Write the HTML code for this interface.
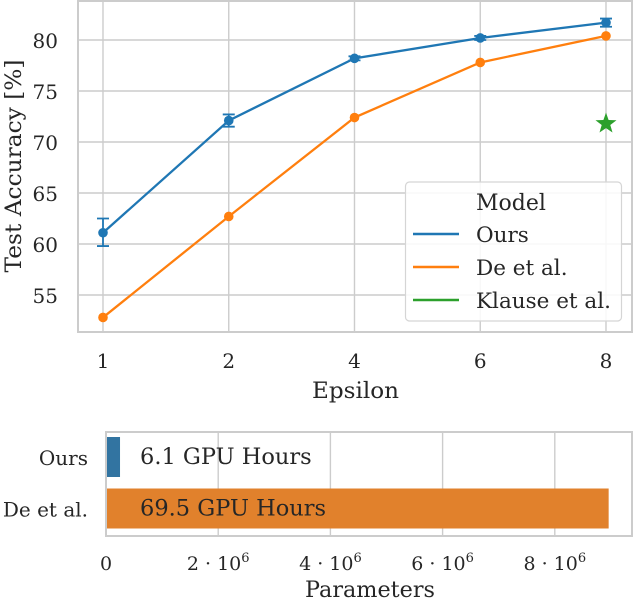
<!DOCTYPE html>
<html><head><meta charset="utf-8"><style>
body{margin:0;background:#fff}
svg{display:block;font-family:"DejaVu Serif","Liberation Serif",serif}
text{fill:#262626}
</style></head><body>
<svg width="636" height="600" viewBox="0 0 636 600">
<g id="topchart"></g>
<g id="botchart"></g>
</svg>
<script>
const epsCats = ["1","2","4","6","8"];
const oursAcc = [61.1, 72.1, 78.2, 80.2, 81.7];
const oursErrLo = [59.8, 71.5, 78.0, 80.0, 81.3];
const oursErrHi = [62.5, 72.7, 78.4, 80.4, 82.1];
const deAcc = [52.8, 62.7, 72.4, 77.8, 80.4];
const klauseIdx = 4;
const klauseAcc = 71.8;
const yTicks = [55, 60, 65, 70, 75, 80];
const barModels = ["Ours", "De et al."];
const barParams = [0.25e6, 8.96e6];
const barLabels = ["6.1 GPU Hours", "69.5 GPU Hours"];
const xParamTicks = [0, 2e6, 4e6, 6e6, 8e6];
const xParamTickBases = ["0", "2 · 10", "4 · 10", "6 · 10", "8 · 10"];

const NS = "http://www.w3.org/2000/svg";
function mk(parent, tag, attrs, txt){const e=document.createElementNS(NS,tag);for(const k in attrs)e.setAttribute(k,attrs[k]);if(txt!==undefined)e.textContent=txt;parent.appendChild(e);return e;}
const topG=document.getElementById('topchart');
const L=78,R=632,T=1,B=332;
const xs=i=>103+i*125.75;
const ys=v=>40+(80-v)*10.2;
const BLUE="#1f77b4",ORANGE="#ff7f0e",GREEN="#2ca02c",GRID="#cccccc";
yTicks.forEach(v=>{
  let l=mk(topG,'line',{x1:L,x2:R,y1:ys(v),y2:ys(v),stroke:GRID,'stroke-width':1.4});
  
  let t=mk(topG,'text',{x:58,y:ys(v)+8,'text-anchor':'end','font-size':20},String(v));
  
});
epsCats.forEach((c,i)=>{
  let l=mk(topG,'line',{x1:xs(i),x2:xs(i),y1:T,y2:B,stroke:GRID,'stroke-width':1.4});
  
  let t=mk(topG,'text',{x:xs(i),y:368,'text-anchor':'middle','font-size':20},c);
  
});
let fr=mk(topG,'rect',{x:L,y:T,width:R-L,height:B-T,fill:'none',stroke:GRID,'stroke-width':2});

function series(vals,color,name){
  let p=mk(topG,'polyline',{points:vals.map((v,i)=>xs(i)+','+ys(v)).join(' '),fill:'none',stroke:color,'stroke-width':2.3});
  
  vals.forEach((v,i)=>{let c=mk(topG,'circle',{cx:xs(i),cy:ys(v),r:4.8,fill:color});
    });
}
series(deAcc,ORANGE,'de-et-al');
series(oursAcc,BLUE,'ours');
oursAcc.forEach((v,i)=>{
  const x=xs(i),y1=ys(oursErrLo[i]),y2=ys(oursErrHi[i]);
  let g=mk(topG,'path',{d:`M${x},${y1}V${y2}M${x-6},${y1}H${x+6}M${x-6},${y2}H${x+6}`,stroke:BLUE,'stroke-width':1.8,fill:'none'});
  
});
{
  const cx=xs(klauseIdx),cy=ys(klauseAcc);let pts=[];
  for(let k=0;k<10;k++){const r=k%2?4.5:11,a=-Math.PI/2+k*Math.PI/5;pts.push((cx+r*Math.cos(a)).toFixed(1)+','+(cy+r*Math.sin(a)).toFixed(1));}
  let s=mk(topG,'polygon',{points:pts.join(' '),fill:GREEN});
  
}
let yl=mk(topG,'text',{x:0,y:0,transform:`translate(21,166) rotate(-90)`,'text-anchor':'middle','font-size':22,textLength:213,lengthAdjust:'spacingAndGlyphs'},'Test Accuracy [%]');

let xl=mk(topG,'text',{x:312,y:398,'font-size':22,textLength:87,lengthAdjust:'spacingAndGlyphs'},'Epsilon');

let lg=mk(topG,'g',{});
mk(lg,'rect',{x:405.5,y:182,width:216,height:139,rx:4,fill:'#fff','fill-opacity':0.85,stroke:'#d5d5d5','stroke-width':1.2});
let lt=mk(lg,'text',{x:476,y:210,'font-size':22},'Model');
[["Ours",BLUE],["De et al.",ORANGE],["Klause et al.",GREEN]].forEach((e,i)=>{
  const y=234+i*33;
  let ln=mk(lg,'line',{x1:413,x2:459,y1:y,y2:y,stroke:e[1],'stroke-width':2.5});
  
  let t=mk(lg,'text',{x:476,y:y+8,'font-size':21.5},e[0]);
  
});
const botG=document.getElementById('botchart');
const BL=106,BR=632,BT=432,BB=536;
const xp=v=>BL+v/1e6*56.1;
xParamTicks.forEach((v,i)=>{
  let l=mk(botG,'line',{x1:xp(v),x2:xp(v),y1:BT,y2:BB,stroke:GRID,'stroke-width':1.4});
  
  let t=mk(botG,'text',{x:xp(v),y:570,'text-anchor':'middle','font-size':19},xParamTickBases[i]);
  if(i>0){mk(t,'tspan',{dy:-8,'font-size':13},'6');}
  
});
let bf=mk(botG,'rect',{x:BL,y:BT,width:BR-BL,height:BB-BT,fill:'none',stroke:GRID,'stroke-width':2});

const barColors=["#3274a1","#e1812c"];
barModels.forEach((m,i)=>{
  const yc=457+i*51.5;
  let r=mk(botG,'rect',{x:BL+1,y:yc-20,width:xp(barParams[i])-BL-1,height:40,fill:barColors[i]});
  
  let t=mk(botG,'text',{x:88,y:yc+8,'text-anchor':'end','font-size':20},m);
  
  let bl=mk(botG,'text',{x:140,y:yc+7,'font-size':22.5},barLabels[i]);
  
});
let px=mk(botG,'text',{x:305,y:597,'font-size':22,textLength:130,lengthAdjust:'spacingAndGlyphs'},'Parameters');

</script>
</body></html>
